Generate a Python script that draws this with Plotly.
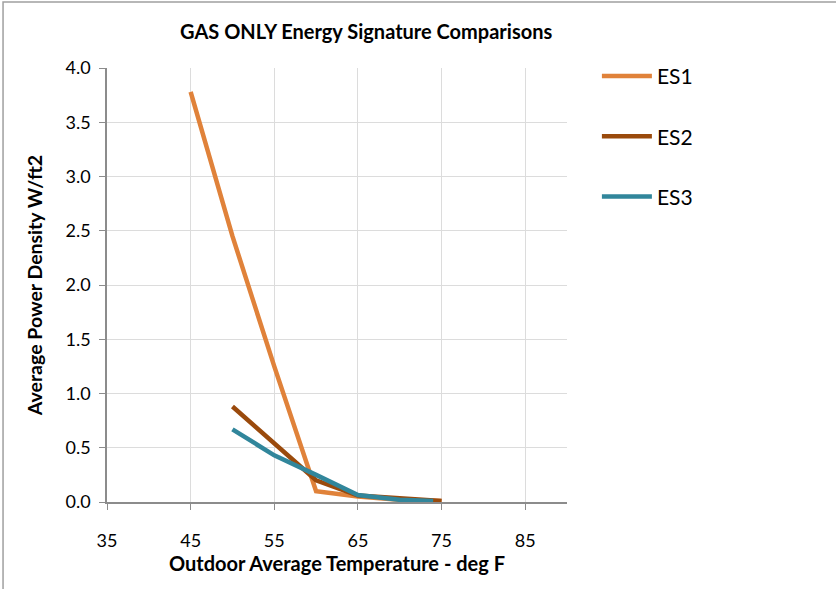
import plotly.graph_objects as go

title_text = "GAS ONLY Energy Signature Comparisons"
x_title = "Outdoor Average Temperature - deg F"
y_title = "Average Power Density W/ft2"

es1_x = [45, 50, 55, 60, 65, 70, 75]
es1_y = [3.78, 2.45, 1.25, 0.10, 0.05, 0.02, 0.01]
es2_x = [50, 55, 60, 65, 70, 75]
es2_y = [0.88, 0.54, 0.20, 0.06, 0.03, 0.01]
es3_x = [50, 55, 60, 65, 70, 74]
es3_y = [0.67, 0.43, 0.25, 0.065, 0.02, 0.01]

series = [
    ("ES1", es1_x, es1_y, "#E0823A"),
    ("ES2", es2_x, es2_y, "#9A4A0C"),
    ("ES3", es3_x, es3_y, "#31869B"),
]

FONT = "Lato, 'Open Sans', sans-serif"

fig = go.Figure()
for i, (name, xs, ys, col) in enumerate(series):
    fig.add_trace(go.Scatter(
        x=xs, y=ys, name=name, mode="lines", legendgroup=name,
        line=dict(color=col, width=4.5),
    ))

fig.update_layout(
    width=836, height=589,
    paper_bgcolor="white", plot_bgcolor="white",
    margin=dict(l=107, r=269, t=68, b=87),
    font=dict(family=FONT, color="black"),
    title=dict(text="<b>" + title_text + "</b>", x=0.438, xanchor="center",
               y=0.945, yanchor="middle", font=dict(size=20, family=FONT)),
    showlegend=True,
    legend=dict(x=1.065, xanchor="left", y=1.028, yanchor="top",
                traceorder="grouped", tracegroupgap=30,
                font=dict(size=21, family=FONT), itemwidth=50,
                bgcolor="rgba(0,0,0,0)"),
    shapes=[dict(type="rect", xref="paper", yref="paper",
                 x0=-0.226, x1=1.7, y0=-0.4, y1=1.152,
                 line=dict(color="#A0A0A0", width=1.5), layer="below")],
)

fig.update_xaxes(
    range=[35, 90], tick0=35, dtick=10,
    showgrid=True, gridcolor="#DCDCDC", gridwidth=1,
    showline=True, linecolor="#8C8C8C", linewidth=1.5,
    ticks="outside", ticklen=6, tickcolor="#8C8C8C",
    ticklabelstandoff=16,
    tickfont=dict(size=18, family=FONT),
    title=dict(text="<b>" + x_title + "</b>", font=dict(size=20, family=FONT), standoff=6),
    zeroline=False,
)
fig.update_yaxes(
    range=[0, 4.0], tick0=0, dtick=0.5, tickformat=".1f",
    showgrid=True, gridcolor="#DCDCDC", gridwidth=1,
    showline=True, linecolor="#8C8C8C", linewidth=1.5,
    ticks="outside", ticklen=6, tickcolor="#8C8C8C",
    ticklabelstandoff=5,
    tickfont=dict(size=18, family=FONT),
    title=dict(text="<b>" + y_title + "</b>", font=dict(size=19.5, family=FONT), standoff=18),
    zeroline=False,
)

fig.write_html("out.html", config={"displayModeBar": False},
               post_script="document.body.style.margin='0';")
